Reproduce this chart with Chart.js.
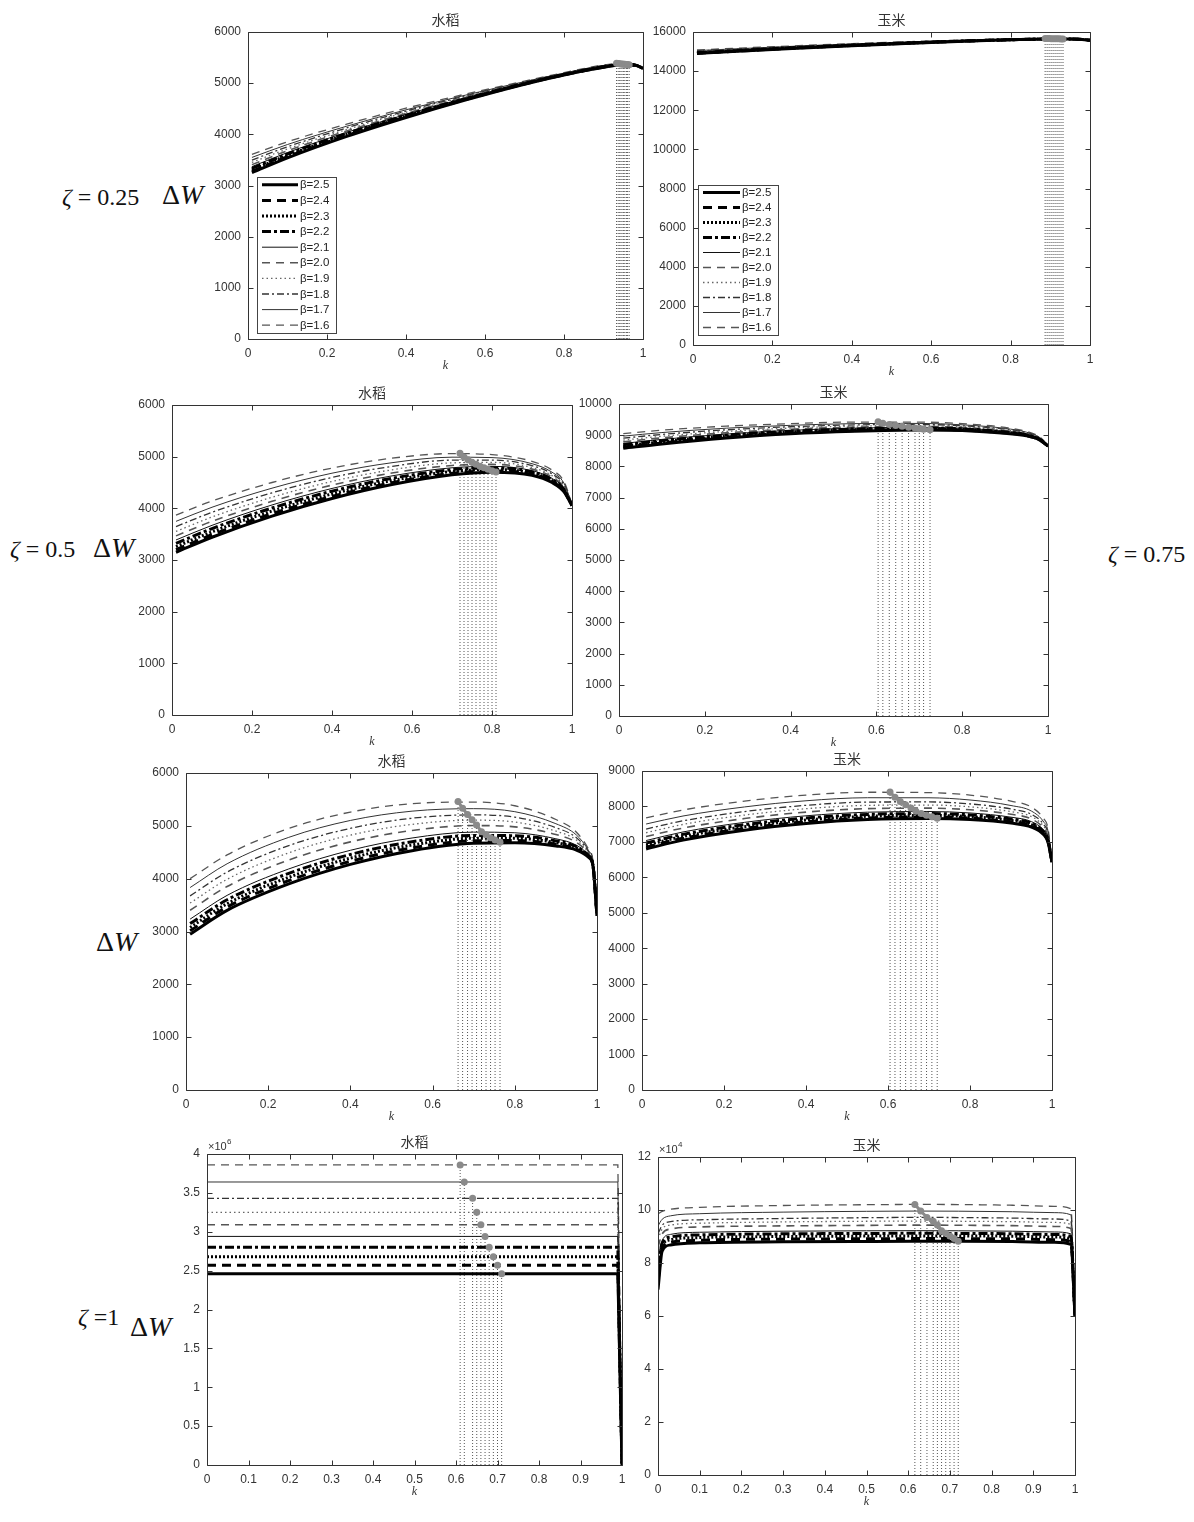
<!DOCTYPE html>
<html>
<head>
<meta charset="utf-8">
<script src="https://cdn.jsdelivr.net/npm/chart.js@4.4.1/dist/chart.umd.min.js"></script>
<style>
  body { margin: 0; background: #fff; width: 1194px; height: 1522px; position: relative; overflow: hidden; }
  canvas { position: absolute; }
  .lab { position: absolute; white-space: nowrap; color: #111; line-height: 1; font-family: "Liberation Serif", serif; }
</style>
</head>
<body>
<div class="lab" style="left:62px;top:185px;font-size:24px"><i>ζ</i> = 0.25</div>
<div class="lab" style="left:162px;top:181px;font-size:28px">Δ<i>W</i></div>
<div class="lab" style="left:10px;top:537px;font-size:24px"><i>ζ</i> = 0.5</div>
<div class="lab" style="left:93px;top:534px;font-size:28px">Δ<i>W</i></div>
<div class="lab" style="left:1108px;top:542px;font-size:24px"><i>ζ</i> = 0.75</div>
<div class="lab" style="left:96px;top:928px;font-size:28px">Δ<i>W</i></div>
<div class="lab" style="left:78px;top:1305px;font-size:24px"><i>ζ</i> =1</div>
<div class="lab" style="left:130px;top:1313px;font-size:28px">Δ<i>W</i></div>

<canvas id="c1"></canvas><canvas id="c2"></canvas>
<canvas id="c3"></canvas><canvas id="c4"></canvas>
<canvas id="c5"></canvas><canvas id="c6"></canvas>
<canvas id="c7"></canvas><canvas id="c8"></canvas>
<script>
const betaLabels = ['β=2.5', 'β=2.4', 'β=2.3', 'β=2.2', 'β=2.1', 'β=2.0', 'β=1.9', 'β=1.8', 'β=1.7', 'β=1.6'];

// zeta = 0.25, rice
const kRice025 = [0.01, 0.1, 0.25, 0.4, 0.55, 0.7, 0.8, 0.9, 0.95, 0.98, 1];
const wRice025 = [
  [3250, 3540, 3960, 4330, 4670, 4980, 5160, 5310, 5360, 5350, 5290],
  [3275, 3562, 3977, 4343, 4678, 4984, 5163, 5313, 5362, 5351, 5291],
  [3304, 3587, 3996, 4357, 4687, 4989, 5167, 5317, 5364, 5353, 5291],
  [3336, 3616, 4018, 4373, 4698, 4994, 5171, 5321, 5366, 5354, 5292],
  [3369, 3644, 4039, 4389, 4708, 5000, 5175, 5325, 5369, 5356, 5293],
  [3408, 3679, 4066, 4409, 4721, 5006, 5180, 5330, 5372, 5358, 5294],
  [3452, 3716, 4094, 4431, 4734, 5014, 5185, 5335, 5375, 5360, 5295],
  [3498, 3757, 4126, 4454, 4749, 5021, 5191, 5341, 5379, 5362, 5296],
  [3549, 3801, 4159, 4479, 4765, 5030, 5197, 5347, 5382, 5365, 5297],
  [3610, 3855, 4200, 4510, 4785, 5040, 5205, 5355, 5387, 5368, 5299]
];
const peakKRice025 = [0.965, 0.961, 0.958, 0.954, 0.951, 0.947, 0.944, 0.940, 0.937, 0.933];
const peakWRice025 = [5362, 5364, 5366, 5368, 5371, 5374, 5377, 5380, 5384, 5389];

// zeta = 0.25, corn
const kCorn025 = [0.01, 0.1, 0.25, 0.4, 0.55, 0.7, 0.8, 0.9, 0.95, 0.98, 1];
const wCorn025 = [
  [14900, 15000, 15160, 15300, 15430, 15540, 15600, 15640, 15640, 15620, 15580],
  [14913, 15011, 15169, 15308, 15436, 15544, 15603, 15642, 15641, 15621, 15581],
  [14927, 15024, 15180, 15316, 15442, 15548, 15605, 15644, 15643, 15621, 15581],
  [14943, 15039, 15191, 15326, 15450, 15553, 15609, 15646, 15644, 15622, 15582],
  [14959, 15053, 15203, 15336, 15457, 15558, 15612, 15649, 15646, 15623, 15583],
  [14979, 15071, 15217, 15348, 15466, 15564, 15616, 15652, 15648, 15624, 15584],
  [15001, 15091, 15233, 15360, 15476, 15570, 15620, 15655, 15650, 15625, 15585],
  [15024, 15112, 15250, 15375, 15487, 15577, 15625, 15659, 15652, 15626, 15586],
  [15049, 15134, 15268, 15390, 15498, 15585, 15630, 15662, 15655, 15627, 15587],
  [15080, 15162, 15290, 15408, 15512, 15594, 15636, 15667, 15658, 15629, 15589]
];
const peakKCorn025 = [0.932, 0.927, 0.922, 0.917, 0.912, 0.907, 0.902, 0.897, 0.892, 0.887];
const peakWCorn025 = [15645, 15647, 15649, 15651, 15653, 15656, 15659, 15662, 15665, 15670];

// zeta = 0.5, rice
const kRice05 = [0.01, 0.1, 0.25, 0.4, 0.55, 0.7, 0.8, 0.9, 0.95, 0.98, 1];
const wRice05 = [
  [3150, 3440, 3850, 4190, 4460, 4650, 4700, 4640, 4500, 4320, 4050],
  [3200, 3489, 3896, 4231, 4496, 4679, 4724, 4659, 4517, 4334, 4052],
  [3258, 3545, 3948, 4279, 4537, 4712, 4751, 4681, 4536, 4350, 4055],
  [3323, 3608, 4006, 4332, 4582, 4748, 4782, 4705, 4558, 4368, 4057],
  [3388, 3671, 4065, 4385, 4628, 4785, 4812, 4729, 4579, 4386, 4060],
  [3467, 3748, 4136, 4450, 4684, 4830, 4850, 4759, 4606, 4408, 4063],
  [3553, 3832, 4214, 4520, 4746, 4880, 4890, 4791, 4634, 4432, 4067],
  [3647, 3923, 4299, 4597, 4812, 4933, 4935, 4826, 4666, 4458, 4071],
  [3748, 4021, 4390, 4680, 4883, 4990, 4982, 4864, 4699, 4486, 4075],
  [3870, 4140, 4500, 4780, 4970, 5060, 5040, 4910, 4740, 4520, 4080]
];
const peakKRice05 = [0.81, 0.80, 0.79, 0.78, 0.77, 0.76, 0.75, 0.74, 0.73, 0.72];
const peakWRice05 = [4705, 4728, 4755, 4785, 4815, 4852, 4893, 4940, 4993, 5065];

// zeta = 0.5, corn
const kCorn05 = [0.01, 0.1, 0.25, 0.4, 0.55, 0.7, 0.8, 0.9, 0.95, 0.98, 1];
const wCorn05 = [
  [8580, 8720, 8910, 9050, 9130, 9170, 9150, 9060, 8980, 8850, 8650],
  [8613, 8751, 8937, 9072, 9150, 9188, 9165, 9073, 8990, 8857, 8652],
  [8651, 8786, 8967, 9098, 9174, 9208, 9183, 9089, 9001, 8865, 8655],
  [8693, 8826, 9001, 9127, 9200, 9230, 9203, 9106, 9014, 8874, 8657],
  [8735, 8865, 9035, 9156, 9226, 9253, 9223, 9123, 9026, 8883, 8660],
  [8787, 8914, 9077, 9191, 9258, 9280, 9247, 9144, 9042, 8894, 8663],
  [8843, 8966, 9123, 9229, 9292, 9310, 9273, 9166, 9058, 8906, 8667],
  [8904, 9024, 9172, 9271, 9330, 9343, 9302, 9191, 9077, 8919, 8671],
  [8970, 9085, 9225, 9316, 9371, 9378, 9333, 9218, 9096, 8933, 8675],
  [9050, 9160, 9290, 9370, 9420, 9420, 9370, 9250, 9120, 8950, 8680]
];
const peakKCorn05 = [0.725, 0.71, 0.70, 0.69, 0.675, 0.66, 0.645, 0.63, 0.615, 0.604];
const peakWCorn05 = [9172, 9190, 9210, 9232, 9256, 9284, 9314, 9346, 9382, 9430];

// zeta = 0.75, rice
const kRice075 = [0.01, 0.1, 0.25, 0.4, 0.55, 0.7, 0.8, 0.9, 0.95, 0.98, 0.99, 1];
const wRice075 = [
  [2950, 3400, 3900, 4270, 4530, 4670, 4680, 4620, 4540, 4400, 4250, 3300],
  [3013, 3463, 3963, 4329, 4583, 4717, 4722, 4650, 4560, 4409, 4256, 3300],
  [3076, 3526, 4026, 4389, 4637, 4764, 4764, 4680, 4581, 4418, 4262, 3300],
  [3150, 3600, 4100, 4458, 4699, 4818, 4813, 4715, 4605, 4429, 4269, 3300],
  [3234, 3684, 4184, 4537, 4770, 4881, 4869, 4755, 4632, 4441, 4277, 3300],
  [3402, 3852, 4352, 4696, 4913, 5005, 4981, 4835, 4686, 4465, 4293, 3300],
  [3538, 3988, 4488, 4824, 5028, 5107, 5072, 4900, 4730, 4484, 4306, 3300],
  [3675, 4125, 4625, 4953, 5144, 5208, 5163, 4965, 4775, 4504, 4319, 3300],
  [3832, 4282, 4782, 5102, 5278, 5325, 5268, 5040, 4826, 4526, 4334, 3300],
  [4000, 4450, 4950, 5260, 5420, 5450, 5380, 5120, 4880, 4550, 4350, 3300]
];
const peakKRice075 = [0.764, 0.752, 0.741, 0.730, 0.719, 0.707, 0.696, 0.685, 0.673, 0.662];
const peakWRice075 = [4690, 4730, 4775, 4830, 4890, 5015, 5115, 5215, 5335, 5460];

// zeta = 0.75, corn
const kCorn075 = [0.01, 0.1, 0.25, 0.4, 0.55, 0.7, 0.8, 0.9, 0.95, 0.98, 0.99, 1];
const wCorn075 = [
  [6800, 7050, 7330, 7520, 7630, 7660, 7630, 7530, 7420, 7200, 7000, 6430],
  [6853, 7101, 7379, 7568, 7676, 7704, 7671, 7567, 7454, 7227, 7024, 6430],
  [6906, 7152, 7428, 7616, 7722, 7748, 7713, 7604, 7487, 7254, 7048, 6430],
  [6967, 7212, 7486, 7672, 7776, 7799, 7761, 7648, 7526, 7286, 7076, 6430],
  [7038, 7280, 7551, 7736, 7838, 7857, 7816, 7697, 7571, 7322, 7108, 6430],
  [7152, 7390, 7658, 7840, 7938, 7952, 7906, 7778, 7644, 7380, 7160, 6430],
  [7258, 7492, 7756, 7936, 8030, 8040, 7989, 7852, 7711, 7434, 7208, 6430],
  [7363, 7594, 7855, 8032, 8123, 8127, 8072, 7927, 7778, 7488, 7256, 6430],
  [7504, 7730, 7986, 8160, 8246, 8244, 8182, 8026, 7868, 7560, 7320, 6430],
  [7680, 7900, 8150, 8320, 8400, 8390, 8320, 8150, 7980, 7650, 7400, 6430]
];
const peakKCorn075 = [0.72, 0.707, 0.694, 0.681, 0.668, 0.656, 0.643, 0.630, 0.617, 0.605];
const peakWCorn075 = [7665, 7706, 7750, 7802, 7862, 7958, 8050, 8140, 8260, 8410];

// zeta = 1, rice
const kRice1 = [0, 0.99, 1];
const wRice1 = [
  [2460000, 2460000, 0],
  [2570000, 2570000, 0],
  [2680000, 2680000, 0],
  [2800000, 2800000, 0],
  [2940000, 2940000, 0],
  [3090000, 3090000, 0],
  [3250000, 3250000, 0],
  [3430000, 3430000, 0],
  [3640000, 3640000, 0],
  [3860000, 3860000, 0]
];
const peakKRice1 = [0.71, 0.70, 0.69, 0.68, 0.67, 0.66, 0.65, 0.64, 0.62, 0.61];
const peakWRice1 = [2460000, 2570000, 2680000, 2800000, 2940000, 3090000, 3250000, 3430000, 3640000, 3860000];

// zeta = 1, corn
const kCorn1 = [0, 0.01, 0.03, 0.1, 0.3, 0.5, 0.62, 0.72, 0.85, 0.95, 0.99, 1];
const wCorn1 = [
  [70000, 84500, 86800, 87600, 88000, 88150, 88200, 88200, 88100, 87800, 87000, 60000],
  [73000, 85500, 87800, 88600, 89000, 89150, 89200, 89200, 89100, 88800, 88000, 60000],
  [76000, 86500, 88800, 89600, 90000, 90150, 90200, 90200, 90100, 89800, 89000, 60000],
  [79000, 87500, 89800, 90600, 91000, 91150, 91200, 91150, 91050, 90750, 90000, 60000],
  [82000, 88500, 90800, 91600, 92000, 92150, 92200, 92150, 92000, 91700, 91000, 60000],
  [86000, 91000, 92800, 93600, 94000, 94200, 94300, 94250, 94100, 93800, 93000, 60000],
  [89000, 92800, 94300, 95000, 95500, 95750, 95800, 95750, 95600, 95300, 94500, 60000],
  [91000, 94200, 95600, 96300, 96800, 97100, 97200, 97150, 96950, 96600, 95800, 60000],
  [94000, 96500, 97800, 98600, 99200, 99500, 99600, 99550, 99350, 99000, 98200, 60000],
  [98500, 99500, 100300, 101000, 101700, 102000, 102100, 102050, 101800, 101400, 100500, 60000]
];
const peakKCorn1 = [0.72, 0.71, 0.70, 0.69, 0.68, 0.67, 0.66, 0.645, 0.63, 0.616];
const peakWCorn1 = [88200, 89200, 90200, 91200, 92200, 94300, 95800, 97200, 99600, 102100];

// line look per beta (2.5 ... 1.6)
const lineStyles = [
  { w: 3,   dash: [],           c: '#000' },
  { w: 3,   dash: [9, 6],       c: '#000' },
  { w: 3,   dash: [2, 2],       c: '#000' },
  { w: 3,   dash: [9, 3, 3, 3], c: '#000' },
  { w: 1,   dash: [],           c: '#111' },
  { w: 1.6, dash: [8, 6],       c: '#555' },
  { w: 1.3, dash: [1.5, 3],     c: '#666' },
  { w: 1.3, dash: [7, 3, 2, 3], c: '#333' },
  { w: 1,   dash: [],           c: '#333' },
  { w: 1.3, dash: [8, 6],       c: '#555' }
];

const panels = [
  { id: 'c1', title: '水稻', rect: [248, 32, 643, 339], k: kRice025, w: wRice025, pk: peakKRice025, pw: peakWRice025,
    yMax: 6000, yStep: 1000, xStep: 0.2, legend: { dx: 9, dy: 6, w: 79, h: 156, line: 41 }, link: true },
  { id: 'c2', title: '玉米', rect: [693, 32, 1090, 345], k: kCorn025, w: wCorn025, pk: peakKCorn025, pw: peakWCorn025,
    yMax: 16000, yStep: 2000, xStep: 0.2, legend: { dx: 5, dy: 10, w: 80, h: 150, line: 42 }, link: true },
  { id: 'c3', title: '水稻', rect: [172, 405, 572, 715], k: kRice05, w: wRice05, pk: peakKRice05, pw: peakWRice05,
    yMax: 6000, yStep: 1000, xStep: 0.2, link: true },
  { id: 'c4', title: '玉米', rect: [619, 404, 1048, 716], k: kCorn05, w: wCorn05, pk: peakKCorn05, pw: peakWCorn05,
    yMax: 10000, yStep: 1000, xStep: 0.2, link: true },
  { id: 'c5', title: '水稻', rect: [186, 773, 597, 1090], k: kRice075, w: wRice075, pk: peakKRice075, pw: peakWRice075,
    yMax: 6000, yStep: 1000, xStep: 0.2, link: true },
  { id: 'c6', title: '玉米', rect: [642, 771, 1052, 1090], k: kCorn075, w: wCorn075, pk: peakKCorn075, pw: peakWCorn075,
    yMax: 9000, yStep: 1000, xStep: 0.2, link: true },
  { id: 'c7', title: '水稻', rect: [207, 1154, 622, 1465], k: kRice1, w: wRice1, pk: peakKRice1, pw: peakWRice1,
    yMax: 4000000, yStep: 500000, xStep: 0.1, exp: 6, link: false, straight: true },
  { id: 'c8', title: '玉米', rect: [658, 1157, 1075, 1475], k: kCorn1, w: wCorn1, pk: peakKCorn1, pw: peakWCorn1,
    yMax: 120000, yStep: 20000, xStep: 0.1, exp: 4, link: true }
];

function drawLegend(chart, lg) {
  const { ctx, chartArea: a } = chart;
  const x0 = Math.round(a.left + lg.dx), y0 = Math.round(a.bottom - lg.dy - lg.h);
  ctx.setLineDash([]);
  ctx.fillStyle = '#fff';
  ctx.fillRect(x0, y0, lg.w, lg.h);
  ctx.strokeStyle = '#444';
  ctx.lineWidth = 1;
  ctx.strokeRect(x0 + 0.5, y0 + 0.5, lg.w, lg.h);
  const step = lg.h / betaLabels.length;
  chart.data.datasets.filter(d => d.isCurve).forEach((d, i) => {
    const yy = y0 + step * (i + 0.5);
    ctx.beginPath();
    ctx.setLineDash(d.borderDash);
    ctx.lineWidth = d.borderWidth;
    ctx.strokeStyle = d.borderColor;
    ctx.moveTo(x0 + 5, yy);
    ctx.lineTo(x0 + lg.line, yy);
    ctx.stroke();
    ctx.setLineDash([]);
    ctx.fillStyle = '#222';
    ctx.font = '11.5px "Liberation Sans"';
    ctx.textAlign = 'left';
    ctx.textBaseline = 'middle';
    ctx.fillText(d.label, x0 + lg.line + 2, yy + 0.5);
  });
}

const framePlugin = {
  id: 'frame',
  afterDatasetsDraw(chart, args, o) {
    const { ctx, chartArea: a, scales: { x, y } } = chart;
    ctx.save();
    ctx.setLineDash([]);
    ctx.strokeStyle = '#333';
    ctx.lineWidth = 1;
    const L = Math.round(a.left) + 0.5, T = Math.round(a.top) + 0.5;
    const R = Math.round(a.right) + 0.5, B = Math.round(a.bottom) + 0.5;
    ctx.beginPath();
    ctx.rect(L, T, R - L, B - T);
    x.ticks.forEach(t => {
      const px = Math.round(x.getPixelForValue(t.value)) + 0.5;
      ctx.moveTo(px, B); ctx.lineTo(px, B - 5);
      ctx.moveTo(px, T); ctx.lineTo(px, T + 5);
    });
    y.ticks.forEach(t => {
      const py = Math.round(y.getPixelForValue(t.value)) + 0.5;
      ctx.moveTo(L, py); ctx.lineTo(L + 5, py);
      ctx.moveTo(R, py); ctx.lineTo(R - 5, py);
    });
    ctx.stroke();
    if (o.legend) drawLegend(chart, o.legend);
    ctx.fillStyle = '#333';
    ctx.font = '14px "Noto Sans CJK SC"';
    ctx.textAlign = 'center';
    ctx.textBaseline = 'middle';
    ctx.fillText(o.title, (a.left + a.right) / 2, a.top - 12);
    if (o.exp) {
      ctx.textAlign = 'left';
      ctx.textBaseline = 'alphabetic';
      ctx.font = '11px "Liberation Sans"';
      ctx.fillText('×10', a.left + 1, a.top - 4);
      ctx.font = '8px "Liberation Sans"';
      ctx.fillText(String(o.exp), a.left + 1 + ctx.measureText('×10').width * 1.4, a.top - 10);
    }
    ctx.restore();
  }
};

const tickFont = { family: 'Liberation Sans', size: 12 };
const fmt = v => String(Number(v.toFixed(3)));

panels.forEach(p => {
  const [L, T, R, B] = p.rect;
  const cv = document.getElementById(p.id);
  cv.width = R - L + 75;
  cv.height = B - T + 30 + 34;
  cv.style.left = (L - 60) + 'px';
  cv.style.top = (T - 30) + 'px';

  const datasets = [];
  p.w.forEach((row, i) => {
    const s = lineStyles[i];
    datasets.push({
      label: betaLabels[i], isCurve: true,
      data: p.k.map((kk, j) => ({ x: kk, y: row[j] })),
      borderColor: s.c, borderWidth: s.w, borderDash: s.dash,
      pointRadius: 0, fill: false, order: 20,
      tension: 0, cubicInterpolationMode: p.straight ? 'default' : 'monotone'
    });
  });
  p.pk.forEach((kk, i) => {
    datasets.push({
      label: 'max ' + betaLabels[i],
      data: [{ x: kk, y: 0 }, { x: kk, y: p.pw[i] }],
      borderColor: '#555', borderWidth: 1, borderDash: [1, 2],
      pointRadius: 0, fill: false, order: 30, tension: 0
    });
  });
  datasets.push({
    label: 'optimum',
    data: p.pk.map((kk, i) => ({ x: kk, y: p.pw[i] })),
    showLine: p.link, borderColor: '#8a8a8a', borderWidth: 3,
    pointRadius: 3.5, pointBackgroundColor: '#8a8a8a', pointBorderColor: '#8a8a8a', pointBorderWidth: 0,
    fill: false, order: 10, tension: 0
  });

  const yDiv = p.exp ? Math.pow(10, p.exp) : 1;
  new Chart(cv, {
    type: 'line',
    data: { datasets },
    options: {
      responsive: false, animation: false, devicePixelRatio: 1,
      layout: { padding: { top: 30, right: 15, bottom: 0, left: 0 } },
      plugins: {
        legend: { display: false }, tooltip: { enabled: false },
        frame: { title: p.title, legend: p.legend, exp: p.exp }
      },
      scales: {
        x: {
          type: 'linear', min: 0, max: 1,
          grid: { display: false, drawTicks: false }, border: { display: false },
          ticks: { stepSize: p.xStep, font: tickFont, color: '#333', padding: 7, maxRotation: 0, autoSkip: false,
                   callback: v => fmt(v) },
          title: { display: true, text: 'k', color: '#333', padding: 0,
                   font: { family: 'Liberation Serif', style: 'italic', size: 12 } },
          afterFit: s => { s.height = 34; }
        },
        y: {
          type: 'linear', min: 0, max: p.yMax,
          grid: { display: false, drawTicks: false }, border: { display: false },
          ticks: { stepSize: p.yStep, font: tickFont, color: '#333', padding: 7,
                   callback: v => fmt(v / yDiv) },
          afterFit: s => { s.width = 60; }
        }
      }
    },
    plugins: [framePlugin]
  });
});
</script>
</body>
</html>
